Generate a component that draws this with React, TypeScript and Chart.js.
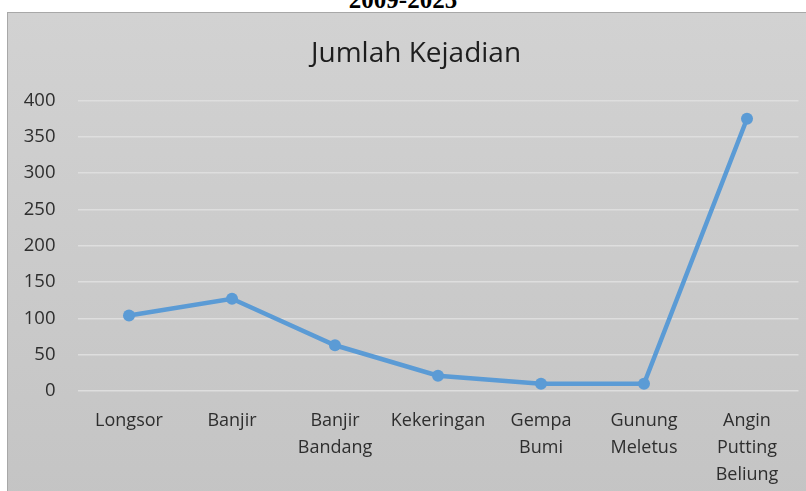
import React, { useEffect, useRef } from "react";
import { Chart, registerables } from "chart.js";

Chart.register(...registerables);

const categories: (string | string[])[] = [
  "Longsor",
  "Banjir",
  ["Banjir", "Bandang"],
  "Kekeringan",
  ["Gempa", "Bumi"],
  ["Gunung", "Meletus"],
  ["Angin", "Putting", "Beliung"],
];
const jumlahKejadian = [104, 127, 63, 21, 10, 10, 375];
const headingText = "2009-2025";
const chartTitle = "Jumlah Kejadian";

export default function App() {
  const ref = useRef<HTMLCanvasElement | null>(null);

  useEffect(() => {
    if (!ref.current) return;
    const chart = new Chart(ref.current, {
      type: "line",
      data: {
        labels: categories,
        datasets: [
          {
            label: chartTitle,
            data: jumlahKejadian,
            borderColor: "#5B9BD5",
            backgroundColor: "#5B9BD5",
            borderWidth: 4.5,
            pointRadius: 6,
            pointHoverRadius: 6,
            pointBorderWidth: 0,
            tension: 0,
            yAxisID: "y",
          },
        ],
      },
      options: {
        animation: false,
        responsive: false,
        maintainAspectRatio: false,
        layout: { padding: { top: 0, left: 0, right: 0, bottom: 0 } },
        plugins: {
          legend: { display: false },
          tooltip: { enabled: false },
          title: {
            display: true,
            text: chartTitle,
            color: "#1e1e1e",
            font: { family: "'Open Sans'", size: 28, weight: "normal" },
            padding: { top: 23, bottom: 30 },
          },
        },
        scales: {
          x: {
            offset: true,
            grid: { display: false, drawTicks: false, offset: true },
            border: { display: false },
            ticks: {
              color: "#2e2e2e",
              font: { family: "'Open Sans'", size: 18, lineHeight: 1.5 },
              padding: 16,
              maxRotation: 0,
              autoSkip: false,
            },
            afterFit: (s: any) => {
              s.height = 101;
            },
          },
          y: {
            min: 0,
            max: 400,
            grid: { color: "#dedede", lineWidth: 1.5, drawTicks: false },
            border: { display: false },
            ticks: {
              stepSize: 50,
              color: "#2e2e2e",
              font: { family: "'Open Sans'", size: 18.5 },
              padding: 22,
            },
            afterFit: (s: any) => {
              s.width = 68.5;
            },
          },
          yRight: {
            display: true,
            position: "right",
            min: 0,
            max: 400,
            grid: { display: false, drawTicks: false },
            border: { display: false },
            ticks: { display: false },
            afterFit: (s: any) => {
              s.width = 24.5;
            },
          },
        },
      },
    });
    return () => chart.destroy();
  }, []);

  return (
    <div
      style={{
        position: "absolute",
        left: 0,
        top: 0,
        width: 806,
        height: 491,
        overflow: "hidden",
        background: "#ffffff",
      }}
    >
      <div
        style={{
          position: "absolute",
          left: 0,
          width: 806,
          top: -15,
          textAlign: "center",
          fontFamily: "'Times New Roman', 'Liberation Serif', serif",
          fontWeight: "bold",
          fontSize: 25,
          lineHeight: "30px",
          color: "#000",
        }}
      >
        {headingText}
      </div>
      <div
        style={{
          position: "absolute",
          left: 7,
          top: 12,
          width: 816,
          height: 490,
          border: "1px solid #a8a8a8",
          background: "linear-gradient(#d2d2d2, #c4c4c4)",
        }}
      >
        <canvas ref={ref} width={814} height={478} style={{ display: "block", marginLeft: 1, marginTop: 1 }} />
      </div>
    </div>
  );
}
